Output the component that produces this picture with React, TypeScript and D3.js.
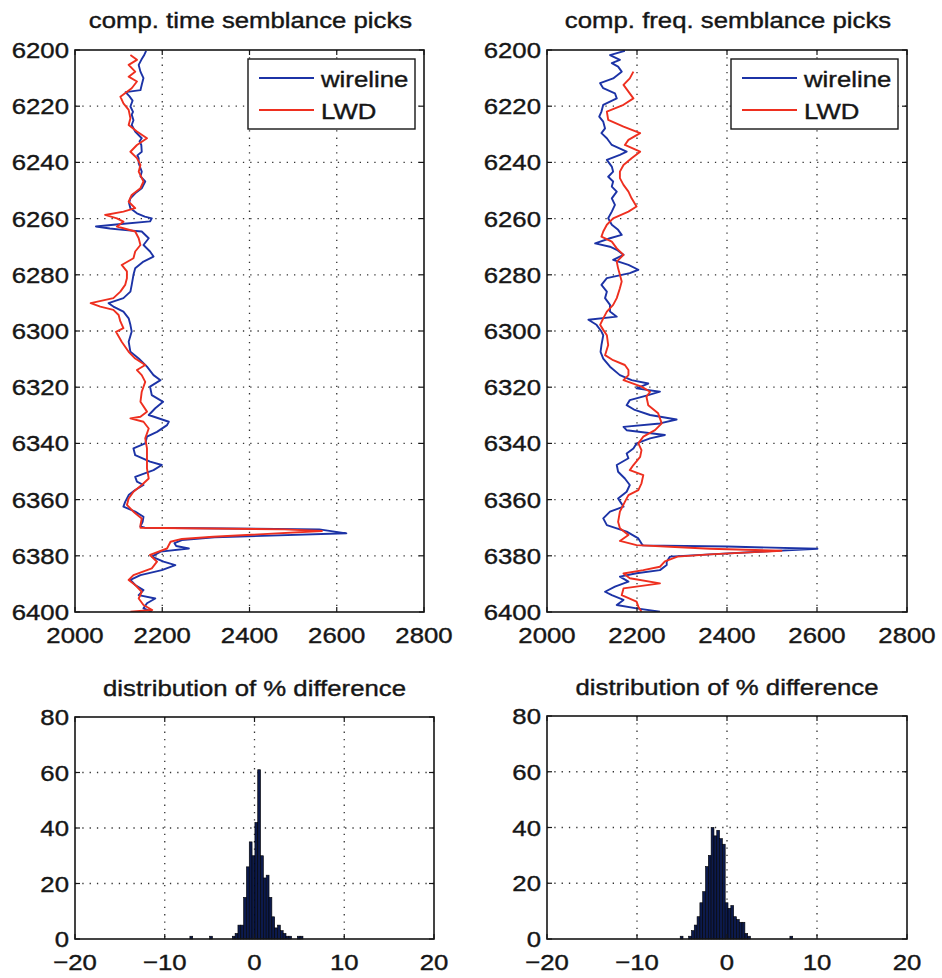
import React from 'react'
import * as d3 from 'd3'

// depth (ft) / slowness-velocity picks
const timeWireline: [number, number][] = [
  [6200.3, 2163], [6202, 2158], [6203.5, 2152], [6205.3, 2146], [6207.7, 2150], [6210, 2157], [6212.4, 2153],
  [6214.3, 2150], [6215, 2116], [6216.5, 2125], [6218, 2132], [6220.1, 2127], [6222, 2133], [6223, 2130],
  [6225, 2134], [6226.7, 2130], [6229, 2138], [6231.4, 2153], [6232.5, 2148], [6233.8, 2152], [6236.2, 2153],
  [6237.5, 2143], [6238.5, 2146], [6240.3, 2146], [6242, 2150], [6243.3, 2153], [6245, 2150], [6246.8, 2161],
  [6249.2, 2153], [6251, 2138], [6252.8, 2127], [6254.5, 2124], [6256.3, 2127], [6258.1, 2142], [6259.3, 2160],
  [6259.9, 2176], [6261, 2172], [6262, 2100], [6262.8, 2048], [6263.5, 2080], [6264, 2110], [6264.6, 2153],
  [6267, 2169], [6269.4, 2157], [6271.7, 2172], [6273.5, 2180], [6275.3, 2157], [6277.7, 2138], [6280, 2134],
  [6283.6, 2130], [6286, 2127], [6288.3, 2111], [6290.1, 2077], [6291.3, 2088], [6293.1, 2111], [6295.5, 2123],
  [6297.8, 2127], [6300.2, 2130], [6303.8, 2123], [6307.4, 2127], [6309.8, 2146], [6312.7, 2165], [6315.7, 2180],
  [6317.5, 2196], [6319.8, 2172], [6322.8, 2176], [6325.2, 2202], [6327.5, 2184], [6329.9, 2169], [6332.3, 2215],
  [6333.5, 2211], [6335.9, 2188], [6337.6, 2165], [6340, 2161], [6341.8, 2134], [6344.2, 2138], [6346.5, 2172],
  [6347.7, 2199], [6349.5, 2180], [6351.9, 2138], [6353.6, 2142], [6354.8, 2157], [6356.6, 2138], [6358.4, 2123],
  [6360.8, 2115], [6362.5, 2111], [6364.3, 2138], [6366.1, 2157], [6367.9, 2155], [6369.5, 2150], [6370, 2160],
  [6370.6, 2560], [6372, 2622], [6373.4, 2320], [6374.4, 2245], [6375.5, 2228], [6376.5, 2232], [6377.4, 2261],
  [6378.5, 2196], [6380.3, 2176], [6382.1, 2203], [6383.3, 2230], [6385.1, 2199], [6386.9, 2150], [6388.6, 2127],
  [6390.4, 2138], [6392.2, 2157], [6394, 2146], [6395.2, 2184], [6396.9, 2165], [6398.7, 2157], [6399.9, 2176],
]

const timeLwd: [number, number][] = [
  [6201.8, 2127], [6203.5, 2142], [6205.3, 2123], [6207.7, 2138], [6209.5, 2123], [6211.2, 2142], [6213.6, 2130],
  [6216.6, 2104], [6219, 2111], [6221.3, 2123], [6224.3, 2127], [6226.7, 2123], [6229, 2142], [6231.4, 2165],
  [6233.8, 2142], [6236.2, 2127], [6238.5, 2142], [6240.9, 2150], [6243.3, 2146], [6246.8, 2157], [6249.2, 2150],
  [6251.6, 2130], [6254, 2123], [6256.3, 2138], [6257.5, 2111], [6258.7, 2069], [6259.9, 2096], [6261.1, 2111],
  [6262.8, 2096], [6264.6, 2138], [6267, 2146], [6269.4, 2150], [6271.7, 2138], [6274.1, 2134], [6276.5, 2107],
  [6278.8, 2119], [6281.2, 2119], [6283.6, 2115], [6286, 2104], [6288.3, 2088], [6290.1, 2036], [6291.3, 2058],
  [6292.5, 2088], [6294.3, 2100], [6296.6, 2104], [6299, 2111], [6300.3, 2094], [6303.8, 2107], [6307.4, 2123],
  [6309.8, 2138], [6312.1, 2161], [6313.9, 2142], [6315.7, 2153], [6318.1, 2161], [6321.6, 2153], [6325.2, 2150],
  [6328.7, 2165], [6330.5, 2150], [6331.1, 2127], [6332.3, 2157], [6334.7, 2169], [6338.2, 2161], [6341.8, 2165],
  [6345.3, 2165], [6348.9, 2165], [6352.5, 2169], [6354.8, 2153], [6357.2, 2134], [6359.6, 2123], [6361.9, 2119],
  [6364.3, 2134], [6366.7, 2153], [6369.1, 2150], [6370, 2150], [6370.6, 2480], [6371.2, 2566], [6373.2, 2317],
  [6374, 2245], [6375, 2219], [6377.4, 2211], [6379.7, 2172], [6382.1, 2188], [6384.5, 2176], [6386.9, 2134],
  [6388.6, 2123], [6390.4, 2138], [6392.8, 2153], [6395.2, 2146], [6397.5, 2157], [6399.3, 2177], [6399.9, 2127],
]

const freqWireline: [number, number][] = [
  [6200.3, 2173], [6201.8, 2140], [6203.5, 2162], [6204.7, 2144], [6205.9, 2158], [6207.7, 2166], [6210.1, 2147],
  [6211.8, 2118], [6213.6, 2125], [6215.4, 2151], [6217.2, 2155], [6219.5, 2125], [6221.9, 2121], [6223.7, 2116],
  [6225.5, 2125], [6227.9, 2129], [6229.6, 2121], [6231.4, 2133], [6233.8, 2144], [6236.2, 2177], [6237.3, 2162],
  [6239.1, 2133], [6241.5, 2144], [6243.3, 2147], [6245.1, 2136], [6246.8, 2147], [6248.6, 2144], [6250.4, 2155],
  [6252.8, 2144], [6255.1, 2151], [6257.5, 2144], [6259.9, 2136], [6262.2, 2144], [6264, 2158], [6265.8, 2166],
  [6267, 2140], [6268.8, 2107], [6270, 2140], [6271.1, 2155], [6272.9, 2170], [6274.7, 2147], [6276.5, 2181],
  [6278.2, 2203], [6279.4, 2184], [6281.2, 2133], [6283.6, 2121], [6286, 2133], [6288.3, 2129], [6290.7, 2140],
  [6293.1, 2140], [6294.9, 2155], [6296, 2092], [6297.8, 2110], [6300.2, 2121], [6301.5, 2125], [6305, 2121],
  [6307.4, 2119], [6309.8, 2125], [6312.7, 2140], [6315.7, 2162], [6317.5, 2188], [6318.7, 2225], [6320.4, 2199],
  [6321.6, 2251], [6322.8, 2225], [6324.6, 2184], [6326.4, 2177], [6328.1, 2195], [6329.9, 2229], [6331.5, 2288],
  [6332.9, 2251], [6334.1, 2170], [6335.3, 2177], [6337, 2262], [6338.2, 2229], [6340, 2199], [6341.8, 2192],
  [6343.6, 2177], [6345.3, 2181], [6347.7, 2155], [6350.1, 2158], [6352.5, 2173], [6354.8, 2184], [6357.2, 2177],
  [6359.6, 2158], [6362.5, 2170], [6364.3, 2140], [6366.7, 2125], [6369.1, 2133], [6371.4, 2177], [6373.8, 2203],
  [6375.6, 2210], [6376.3, 2213], [6376.7, 2400], [6377.5, 2601], [6379.5, 2362], [6380.3, 2273], [6382.1, 2266],
  [6383.3, 2266], [6385.1, 2251], [6386.2, 2199], [6387.4, 2162], [6389.2, 2181], [6391, 2151], [6392.8, 2129],
  [6394, 2144], [6395.7, 2170], [6397.5, 2155], [6398.7, 2199], [6399.9, 2251],
]

const freqLwd: [number, number][] = [
  [6207.7, 2192], [6210.1, 2184], [6212.4, 2170], [6214.8, 2181], [6217.2, 2192], [6219.5, 2170], [6221.9, 2133],
  [6224.9, 2136], [6227.3, 2170], [6229.6, 2207], [6232, 2181], [6233.8, 2173], [6236.2, 2207], [6238.5, 2188],
  [6240.9, 2170], [6243.3, 2162], [6245.6, 2162], [6248, 2170], [6250.4, 2181], [6252.8, 2188], [6255.7, 2199],
  [6257.5, 2181], [6259.9, 2147], [6262.2, 2133], [6264.6, 2125], [6266.4, 2121], [6268.2, 2144], [6270.6, 2155],
  [6272.9, 2170], [6275.3, 2155], [6277.7, 2158], [6280, 2162], [6282.4, 2166], [6284.8, 2162], [6288.3, 2155],
  [6290.7, 2147], [6293.1, 2133], [6295.5, 2125], [6297.8, 2118], [6299.6, 2125], [6301.5, 2133], [6305, 2136],
  [6308.6, 2129], [6310.4, 2147], [6312.1, 2173], [6313.9, 2181], [6315.7, 2181], [6317.5, 2170], [6319.8, 2210],
  [6321.6, 2229], [6323.4, 2221], [6326.4, 2225], [6329.3, 2247], [6331.1, 2251], [6332.9, 2255], [6335.3, 2240],
  [6337.6, 2214], [6340, 2203], [6342.4, 2210], [6344.8, 2207], [6347.7, 2192], [6349.5, 2184], [6351.3, 2214],
  [6354.2, 2210], [6356.6, 2203], [6358.4, 2181], [6360.8, 2173], [6364.3, 2162], [6367.9, 2158], [6370.2, 2162],
  [6372.6, 2181], [6374.7, 2162], [6376.2, 2199], [6376.8, 2273], [6377.5, 2362], [6378.2, 2521], [6379.5, 2362],
  [6380.3, 2290], [6382, 2262], [6383.9, 2251], [6385.1, 2214], [6386.3, 2170], [6388, 2184], [6389.8, 2251],
  [6391.6, 2170], [6394, 2166], [6396.3, 2199], [6398.1, 2203], [6399.9, 2210],
]

// histograms: 40 bins spread over the data range
const timeHistRange = [-7.2, 5.4]
const timeHistCounts = [
  1, 0, 0, 0, 0, 0, 0, 1, 0, 0, 0, 0, 0, 0, 0, 1, 2, 5, 5, 15,
  26, 35, 30, 42, 61, 30, 22, 23, 15, 8, 4, 5, 3, 2, 1, 1, 0, 0, 1, 1,
]
const freqHistRange = [-5.2, 7.3]
const freqHistCounts = [
  1, 0, 0, 1, 3, 5, 8, 13, 17, 26, 30, 40, 37, 39, 36, 34, 13, 11, 12, 8,
  7, 6, 6, 2, 1, 0, 0, 0, 0, 0, 0, 0, 0, 0, 0, 0, 0, 0, 0, 1,
]

const depthTicks = [6200, 6220, 6240, 6260, 6280, 6300, 6320, 6340, 6360, 6380, 6400]
const velTicks = [2000, 2200, 2400, 2600, 2800]
const histXTicks = [-20, -10, 0, 10, 20]
const histYTicks = [0, 20, 40, 60, 80]

const FONT = '"Liberation Sans", Arial, Helvetica, sans-serif'
const SX = 1.12
const BLUE = '#1c33a6'
const RED = '#ee2f1f'
const INK = '#161616'

type Box = { x0: number, x1: number, y0: number, y1: number }

const fmt = (v: number) => (v < 0 ? '\u2212' + Math.abs(v) : String(v))

// the scanned figure is a little wider than tall, so text gets a horizontal stretch
const Label = ({ x, y, anchor = 'middle', children }: any) => (
  <text transform={`translate(${x},${y}) scale(${SX},1)`} textAnchor={anchor}
    fontSize={23} fontFamily={FONT} fill={INK} stroke={INK} strokeWidth={0.4}>{children}</text>
)

const Grid = ({ b, xs, ys, xTicks, yTicks }: any) => {
  const dots = { stroke: '#333', strokeWidth: 1.3, strokeDasharray: '1.3 6' }
  return (
    <g>
      {xTicks.slice(1, -1).map((t: number) => (
        <line key={'gx' + t} x1={xs(t)} x2={xs(t)} y1={b.y0} y2={b.y1} {...dots} />
      ))}
      {yTicks.slice(1, -1).map((t: number) => (
        <line key={'gy' + t} x1={b.x0} x2={b.x1} y1={ys(t)} y2={ys(t)} {...dots} />
      ))}
    </g>
  )
}

const Axes = ({ b, xs, ys, xTicks, yTicks }: any) => (
  <g>
    <rect x={b.x0} y={b.y0} width={b.x1 - b.x0} height={b.y1 - b.y0} fill="none" stroke={INK} strokeWidth={1.6} />
    {xTicks.map((t: number) => (
      <g key={'tx' + t}>
        <line x1={xs(t)} x2={xs(t)} y1={b.y1} y2={b.y1 - 5} stroke={INK} strokeWidth={1.2} />
        <line x1={xs(t)} x2={xs(t)} y1={b.y0} y2={b.y0 + 5} stroke={INK} strokeWidth={1.2} />
        <Label x={xs(t)} y={b.y1 + 31}>{fmt(t)}</Label>
      </g>
    ))}
    {yTicks.map((t: number) => (
      <g key={'ty' + t}>
        <line x1={b.x0} x2={b.x0 + 5} y1={ys(t)} y2={ys(t)} stroke={INK} strokeWidth={1.2} />
        <line x1={b.x1} x2={b.x1 - 5} y1={ys(t)} y2={ys(t)} stroke={INK} strokeWidth={1.2} />
        <Label x={b.x0 - 6} y={ys(t) + 8} anchor="end">{fmt(t)}</Label>
      </g>
    ))}
  </g>
)

const LogPanel = ({ b, title, wire, lwd, id }: { b: Box, title: string, wire: [number, number][], lwd: [number, number][], id: string }) => {
  const xs = d3.scaleLinear().domain([2000, 2800]).range([b.x0, b.x1])
  const ys = d3.scaleLinear().domain([6200, 6400]).range([b.y0, b.y1])
  const line = d3.line<[number, number]>().x(d => xs(d[1])).y(d => ys(d[0]))
  const lx = b.x1 - 9 - 167
  const ly = b.y0 + 9
  return (
    <g>
      <clipPath id={id}><rect x={b.x0} y={b.y0} width={b.x1 - b.x0} height={b.y1 - b.y0} /></clipPath>
      <Grid b={b} xs={xs} ys={ys} xTicks={velTicks} yTicks={depthTicks} />
      <g clipPath={`url(#${id})`} fill="none" strokeWidth={1.9} strokeLinejoin="round">
        <path d={line(wire) || ''} stroke={BLUE} />
        <path d={line(lwd) || ''} stroke={RED} />
      </g>
      <Axes b={b} xs={xs} ys={ys} xTicks={velTicks} yTicks={depthTicks} />
      <Label x={(b.x0 + b.x1) / 2 + 1} y={28}>{title}</Label>
      <rect x={lx} y={ly} width={167} height={70} fill="#fff" stroke={INK} strokeWidth={1.4} />
      <line x1={lx + 11} x2={lx + 66} y1={ly + 19} y2={ly + 19} stroke={BLUE} strokeWidth={1.9} />
      <line x1={lx + 11} x2={lx + 66} y1={ly + 51} y2={ly + 51} stroke={RED} strokeWidth={1.9} />
      <Label x={lx + 73} y={ly + 28} anchor="start">wireline</Label>
      <Label x={lx + 73} y={ly + 60} anchor="start">LWD</Label>
    </g>
  )
}

const HistPanel = ({ b, counts, range }: { b: Box, counts: number[], range: number[] }) => {
  const xs = d3.scaleLinear().domain([-20, 20]).range([b.x0, b.x1])
  const ys = d3.scaleLinear().domain([0, 80]).range([b.y1, b.y0])
  const w = (range[1] - range[0]) / counts.length
  return (
    <g>
      <Grid b={b} xs={xs} ys={ys} xTicks={histXTicks} yTicks={histYTicks} />
      {counts.map((c, i) => c > 0 && (
        <rect key={i} x={xs(range[0] + i * w)} width={xs(range[0] + (i + 1) * w) - xs(range[0] + i * w)}
          y={ys(c)} height={ys(0) - ys(c)} fill="#0c1a4c" stroke="#000" strokeWidth={0.6} />
      ))}
      <Axes b={b} xs={xs} ys={ys} xTicks={histXTicks} yTicks={histYTicks} />
      <Label x={(b.x0 + b.x1) / 2} y={b.y0 - 21}>distribution of % difference</Label>
    </g>
  )
}

export default function App() {
  return (
    <svg width={942} height={978} style={{ position: 'absolute', left: 0, top: 0, background: '#fff' }}>
      <LogPanel id="c1" b={{ x0: 75, x1: 424, y0: 50, y1: 612 }} title="comp. time semblance picks"
        wire={timeWireline} lwd={timeLwd} />
      <LogPanel id="c2" b={{ x0: 547, x1: 907, y0: 50, y1: 612 }} title="comp. freq. semblance picks"
        wire={freqWireline} lwd={freqLwd} />
      <HistPanel b={{ x0: 75, x1: 434, y0: 717, y1: 939 }} counts={timeHistCounts} range={timeHistRange} />
      <HistPanel b={{ x0: 547, x1: 907, y0: 716, y1: 939 }} counts={freqHistCounts} range={freqHistRange} />
    </svg>
  )
}
